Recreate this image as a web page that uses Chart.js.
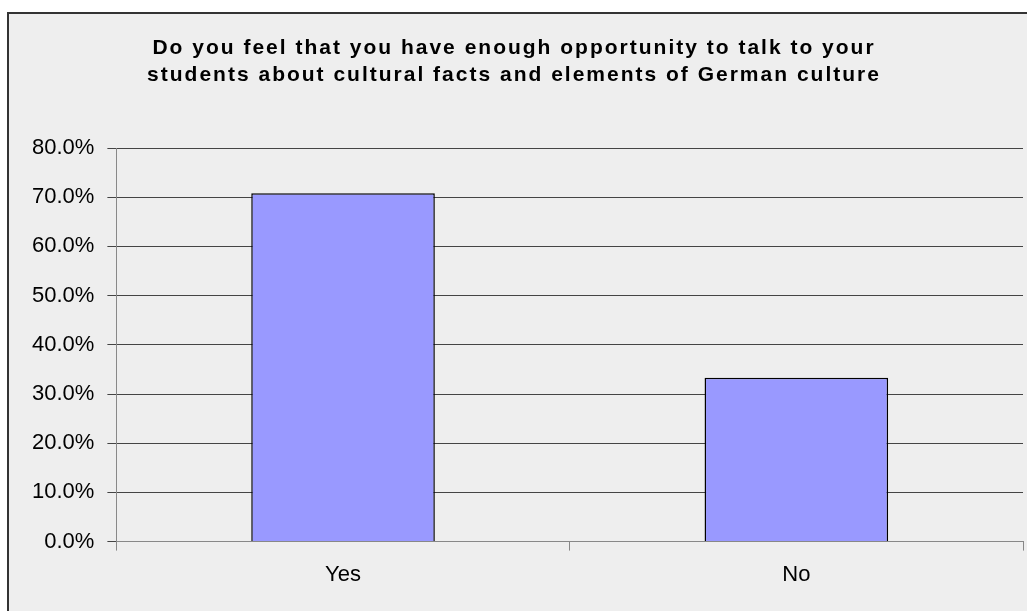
<!DOCTYPE html>
<html>
<head>
<meta charset="utf-8">
<script src="https://cdn.jsdelivr.net/npm/chart.js@4"></script>
<style>
  html, body { margin: 0; padding: 0; background: #fff; }
  #wrap { width: 1027px; height: 611px; }
</style>
</head>
<body>
<div id="wrap"><canvas id="js--chart"></canvas></div>
<script>
/* data */
const labels = ["Yes", "No"];
const values = [70.8, 33.3];
const titleLines = [
    "Do you feel that you have enough opportunity to talk to your",
    "students about cultural facts and elements of German culture"
];

/* grijze achtergrond met rand links en boven */
const frame = {
    id: 'frame',
    beforeDraw(chart) {
        const ctx = chart.ctx;
        ctx.save();
        ctx.fillStyle = '#fff';
        ctx.fillRect(0, 0, chart.width, chart.height);
        ctx.fillStyle = '#eeeeee';
        ctx.fillRect(8, 13, chart.width, chart.height);
        ctx.strokeStyle = '#333';
        ctx.lineWidth = 2;
        ctx.beginPath();
        ctx.moveTo(8, chart.height + 2);
        ctx.lineTo(8, 13);
        ctx.lineTo(chart.width + 2, 13);
        ctx.stroke();
        ctx.restore();
    },
    afterDraw(chart, args, opts) {
        const ctx = chart.ctx;
        ctx.save();
        ctx.fillStyle = '#000';
        ctx.font = 'bold 21px "Liberation Sans", Arial, sans-serif';
        ctx.letterSpacing = '2px';
        ctx.textAlign = 'center';
        ctx.textBaseline = 'alphabetic';
        opts.lines.forEach(function(line, i) {
            ctx.fillText(line, 514, 54 + i * 27);
        });
        ctx.restore();
    }
};

const data = {
    labels: labels,
    datasets: [
        {
            data: values,
            backgroundColor: '#9999FF',
            borderColor: '#000',
            borderWidth: 1.5,
            categoryPercentage: 1,
            barPercentage: 0.405
        }
    ]
};

const config = {
    type: 'bar',
    data: data,
    plugins: [frame],
    options: {
        responsive: true,
        maintainAspectRatio: false,
        animation: false,
        layout: { padding: { top: 148, left: 19, right: 4, bottom: 12 } },
        plugins: {
            legend: { display: false },
            tooltip: { enabled: false },
            frame: { lines: titleLines }
        },
        scales: {
            x: {
                grid: { offset: true, drawOnChartArea: false, tickLength: 9, color: '#888' },
                border: { color: '#888' },
                ticks: {
                    color: '#000',
                    padding: 11,
                    font: { family: '"Liberation Sans", Arial, sans-serif', size: 22 }
                }
            },
            y: {
                min: 0,
                max: 80,
                grid: { color: '#444', tickLength: 9 },
                border: { color: '#888' },
                ticks: {
                    stepSize: 10,
                    color: '#000',
                    padding: 13,
                    font: { family: '"Liberation Sans", Arial, sans-serif', size: 22 },
                    callback: function(v) { return v.toFixed(1) + '%'; }
                }
            }
        }
    }
};

new Chart(document.getElementById("js--chart"), config);
</script>
</body>
</html>
